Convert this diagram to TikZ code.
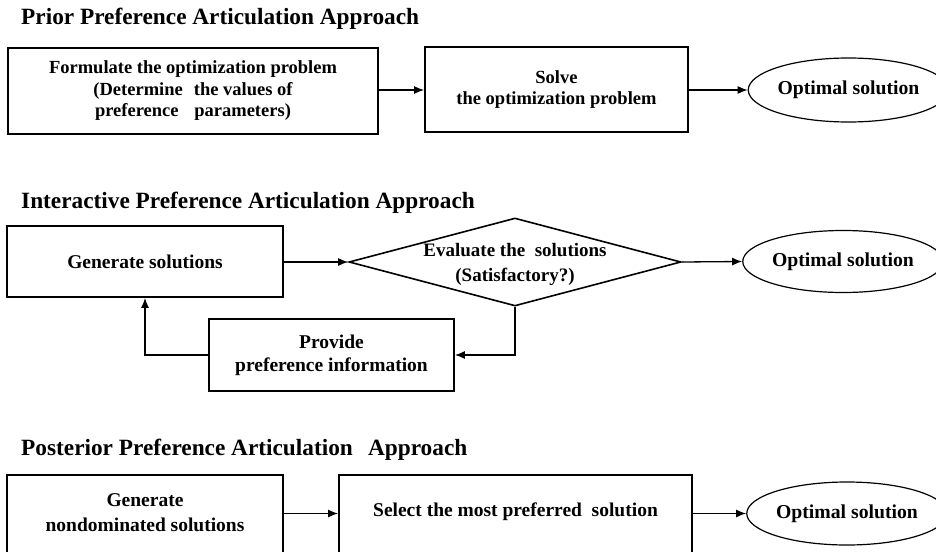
\documentclass[tikz,border=0pt]{standalone}
\usepackage{fontspec}
\setmainfont{Liberation Serif}
\usetikzlibrary{shapes.geometric,arrows.meta}
\begin{document}
\begin{tikzpicture}[x=1pt,y=-1pt,
  box/.style={draw, line width=1.8pt, rectangle, inner sep=0pt, align=center, font=\bfseries\fontsize{19.5}{24}\selectfont},
  txt/.style={inner sep=0pt, align=center, font=\bfseries\fontsize{19.5}{25}\selectfont},
  ell/.style={draw, line width=1.2pt, ellipse, minimum width=185pt, minimum height=64pt, inner sep=0pt, font=\bfseries\fontsize{19.7}{24}\selectfont},
  diabox/.style={draw, line width=1.6pt, diamond, aspect=3.77, minimum width=332pt, minimum height=88pt, inner sep=0pt},
  title/.style={anchor=base west, inner sep=0pt, font=\bfseries\fontsize{23.3}{27}\selectfont},
  conn/.style={line width=1.3pt, -{Latex[length=10pt,width=8pt]}}]
\useasboundingbox (0,0) rectangle (936,551);
\fill[white] (0,0) rectangle (936,551);

% ---------- Prior ----------
\node[title] (t1) at (21,25) {Prior Preference Articulation Approach};
\node[box, minimum width=370pt, minimum height=86pt, font=\bfseries\fontsize{18.5}{21.5}\selectfont] (box1) at (193,91)
  {Formulate the optimization problem\\(Determine\hspace{0.35em} the values of\\preference\hspace{0.6em} parameters)};
\node[box, minimum width=263pt, minimum height=85pt, font=\bfseries\fontsize{18.5}{21.5}\selectfont] (box2) at (556.5,89.5)
  {Solve\\the optimization problem};
\node[ell, minimum width=183pt] (ell1) at (848.5,90) {Optimal solution};
\draw[conn] (box1.east |- ell1.west) -- (box2.west |- ell1.west);
\draw[conn] (box2.east |- ell1.west) -- (ell1.west);

% ---------- Interactive ----------
\node[title] (t2) at (21,208) {Interactive Preference Articulation Approach};
\node[box, minimum width=276pt, minimum height=71pt] (gen) at (145,261.5) {Generate solutions};
\node[diabox] (dia) at (515,262) {};
\node[txt, font=\bfseries\fontsize{19}{25}\selectfont] (diatext) at (515,264.5)
  {Evaluate the\hspace{0.25em} solutions\\(Satisfactory?)};
\node[ell, minimum width=192pt, minimum height=62pt] (ell2) at (843,261.5) {Optimal solution};
\node[box, minimum width=245pt, minimum height=72pt, font=\bfseries\fontsize{19.5}{23}\selectfont] (prov) at (331.5,355)
  {Provide\\preference information};
\draw[conn] (gen.east |- dia.west) -- (dia.west);
\draw[conn] (dia.east) -- (ell2.west);
\draw[conn] (dia.south) |- (prov.east);
\draw[conn] (prov.west) -| (gen.south);

% ---------- Posterior ----------
\node[title] (t3) at (21,455) {Posterior Preference Articulation\hspace{0.4em} Approach};
\node[box, minimum width=276pt, minimum height=90pt] (gen2) at (145,520) {};
\node[txt] (gen2t) at (145,512.5) {Generate\\nondominated solutions};
\node[box, minimum width=353pt, minimum height=90pt] (sel) at (515.5,520) {};
\node[txt] (selt) at (515.5,512) {Select the most preferred\hspace{0.25em} solution};
\node[ell, minimum height=63pt] (ell3) at (847,513.5) {Optimal solution};
\draw[conn] (gen2.east |- ell3.west) -- (sel.west |- ell3.west);
\draw[conn] (sel.east |- ell3.west) -- (ell3.west);
\end{tikzpicture}
\end{document}
